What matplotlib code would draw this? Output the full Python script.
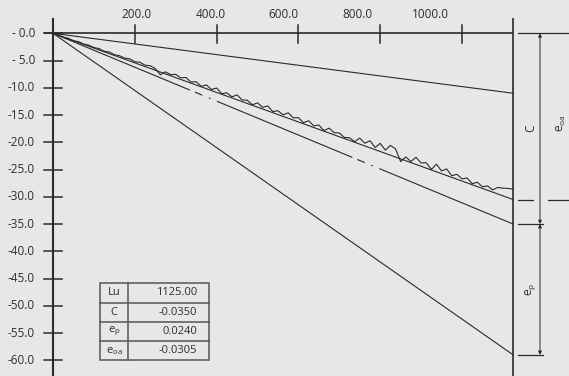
import matplotlib
matplotlib.use("Agg")
import matplotlib.pyplot as plt
from matplotlib.patches import Rectangle

plt.rcParams['font.family'] = ['Open Sans', 'DejaVu Sans']
plt.rcParams['lines.scale_dashes'] = False

# ---------------- data ----------------
Lu = 1125.0
C = -0.0350
e_p = 0.0240
e_oa = -0.0305
SCALE = 1000.0  # strain -> plotted units

x_ticks = [200, 400, 600, 800, 1000]
x_tick_labels = ["200.0", "400.0", "600.0", "800.0", "1000.0"]
y_ticks = [0, -5, -10, -15, -20, -25, -30, -35, -40, -45, -50, -55, -60]
y_tick_labels = ["- 0.0", "- 5.0", "-10.0", "-15.0", "-20.0", "-25.0", "-30.0",
                 "-35.0", "-40.0", "-45.0", "-50.0", "-55.0", "-60.0"]

meas_x = [0, 12.5, 25, 37.5, 50, 62.5, 75, 87.5, 100, 112.5, 125, 137.5, 150, 162.5,
          175, 187.5, 200, 212.5, 225, 237.5, 250, 262.5, 275, 287.5, 300, 312.5, 325,
          337.5, 350, 362.5, 375, 387.5, 400, 412.5, 425, 437.5, 450, 462.5, 475, 487.5,
          500, 512.5, 525, 537.5, 550, 562.5, 575, 587.5, 600, 612.5, 625, 637.5, 650,
          662.5, 675, 687.5, 700, 712.5, 725, 737.5, 750, 762.5, 775, 787.5, 800, 812.5,
          825, 837.5, 850, 862.5, 875, 887.5, 900, 912.5, 925, 937.5, 950, 962.5, 975,
          987.5, 1000, 1012.5, 1025, 1037.5, 1050, 1062.5, 1075, 1087.5, 1100, 1112.5, 1125]
meas_y = [0.00, -0.29, -0.73, -0.92, -1.36, -1.54, -1.98, -2.17, -2.61, -2.80, -3.29,
          -3.43, -3.92, -4.11, -4.54, -4.68, -5.22, -5.31, -5.85, -5.94, -6.48, -7.62,
          -7.06, -7.59, -7.53, -8.17, -8.11, -8.95, -8.89, -9.73, -9.47, -10.31, -10.04,
          -11.08, -10.92, -11.66, -11.30, -12.24, -12.28, -13.12, -12.76, -13.59, -13.33,
          -14.37, -14.21, -14.95, -14.59, -15.53, -15.47, -16.41, -16.04, -16.98, -16.82,
          -17.86, -17.40, -18.24, -18.28, -19.12, -19.16, -19.89, -19.23, -20.17, -19.71,
          -20.95, -20.19, -21.43, -20.57, -21.21, -23.54, -22.68, -23.52, -22.76, -23.80,
          -23.74, -24.98, -24.02, -25.26, -24.89, -26.13, -25.87, -26.71, -26.55, -27.59,
          -27.33, -28.17, -28.01, -28.74, -28.28, -28.42, -28.46, -28.60]

table_labels = ["Lu", "C", r"$\mathregular{e_{p}}$", r"$\mathregular{e_{oa}}$"]
table_values = [f"{Lu:.2f}", f"{C:.4f}", f"{e_p:.4f}", f"{e_oa:.4f}"]

# ---------------- style ----------------
BG = "#e6e7e8"
INK = "#2a2a2a"
TXT = "#2e2e2e"
FS = 8.5

fig = plt.figure(figsize=(5.69, 3.76), dpi=100, facecolor=BG)
ax = fig.add_axes([0, 0, 1, 1])
ax.set_facecolor(BG)
ax.axis("off")
# pixel mapping: x_px = 53 + 0.409*x ; y_px = 33.3 - 5.45*y
ax.set_xlim(-53 / 0.409, (569 - 53) / 0.409)
ax.set_ylim(-(376 - 33.3) / 5.45, 33.3 / 5.45)

yC = C * SCALE
yP = e_p * SCALE
yOA = e_oa * SCALE

# axes
ax.plot([0, 0], [2.8, -70], color=INK, lw=1.5, solid_capstyle="butt")
ax.plot([Lu, Lu], [2.8, -70], color=INK, lw=1.2, solid_capstyle="butt")
ax.plot([-22, Lu], [0, 0], color=INK, lw=1.2, solid_capstyle="butt")
for t in x_ticks:
    ax.plot([t, t], [1.5, -1.8], color=INK, lw=1.1)
for t in y_ticks:
    ax.plot([-22, 22], [t, t], color=INK, lw=1.1)

lab_x = [t * 0.8975 + 25.5 for t in x_ticks]
for lx, lab in zip(lab_x, x_tick_labels):
    ax.text(lx, 3.45, lab, ha="center", va="center", fontsize=FS, color=TXT)
for t, lab in zip(y_ticks, y_tick_labels):
    ax.text(-44, t, lab, ha="right", va="center", fontsize=FS, color=TXT)

# lines from origin
ax.plot([0, Lu], [0, yC + yP], color=INK, lw=0.8)
ax.plot([0, Lu], [0, yC - yP], color=INK, lw=0.8)
ax.plot([0, Lu], [0, yOA], color=INK, lw=0.8)
ax.plot([0, Lu], [0, yC], color=INK, lw=0.8,
        linestyle=(125.4, (105.5, 3.9, 5.8, 5.1, 1.2, 5.1)))
ax.plot(meas_x, meas_y, color=INK, lw=0.8)

# dimension lines on the right
ext0 = 1137
ax.plot([ext0, 1300], [0, 0], color=INK, lw=0.9)
ax.plot([ext0, 1174], [yOA, yOA], color=INK, lw=0.9)
ax.plot([1210, 1300], [yOA, yOA], color=INK, lw=0.9)
ax.plot([ext0, 1198], [yC, yC], color=INK, lw=0.9)
ax.plot([ext0, 1198], [yC - yP, yC - yP], color=INK, lw=0.9)

xdim = 1190.7
arrow = dict(arrowstyle="<|-|>", mutation_scale=5, lw=0.7, color=INK,
             shrinkA=0, shrinkB=0)
ax.annotate("", xy=(xdim, 0), xytext=(xdim, yC), arrowprops=arrow)
ax.annotate("", xy=(xdim, yC), xytext=(xdim, yC - yP), arrowprops=arrow)
ax.annotate("", xy=(1266.5, 0), xytext=(1266.5, yOA), arrowprops=arrow,
            annotation_clip=False)

ax.text(1168.7, yC / 2, "C", rotation=90, ha="center", va="center",
        fontsize=FS, color=TXT)
ax.text(1168.7, yC - yP / 2, r"$\mathregular{e_{p}}$", rotation=90, ha="center",
        va="center", fontsize=FS, color=TXT)
ax.text(1242, -16.5, r"$\mathregular{e_{oa}}$", rotation=90, ha="center",
        va="center", fontsize=FS, color=TXT)

# table
tx0, tx1, txd = 115, 381, 183
row_edges = [-45.9, -49.4, -52.9, -56.5, -60.0]
tcol = "#555555"
ax.add_patch(Rectangle((tx0, row_edges[-1]), tx1 - tx0, row_edges[0] - row_edges[-1],
                       fill=False, ec=tcol, lw=1.1))
ax.plot([txd, txd], [row_edges[0], row_edges[-1]], color=tcol, lw=1.1)
for r in row_edges[1:-1]:
    ax.plot([tx0, tx1], [r, r], color=tcol, lw=1.1)
for i, (lab, val) in enumerate(zip(table_labels, table_values)):
    yc = (row_edges[i] + row_edges[i + 1]) / 2
    ax.text((tx0 + txd) / 2, yc, lab, ha="center", va="center", fontsize=8, color=TXT)
    ax.text(352, yc, val, ha="right", va="center", fontsize=8, color=TXT)

fig.savefig("out.png", dpi=100, facecolor=BG)
